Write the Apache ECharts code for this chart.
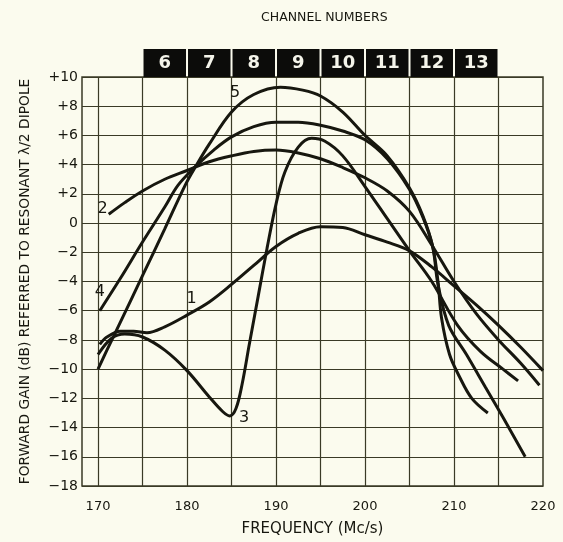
<!DOCTYPE html>
<html>
<head>
<meta charset="utf-8">
<script src="https://cdn.jsdelivr.net/npm/echarts@6/dist/echarts.min.js"></script>
<style>
  html, body { margin: 0; padding: 0; background: #fbfbee; }
  #chart { width: 563px; height: 542px; }
</style>
</head>
<body>
<div id="chart"></div>
<script>
// frequency (Mc/s) and forward gain (dB)
var freq1 = [170.2, 171, 172.5, 174, 175.5, 177.5, 180, 182.5, 185, 187.5, 190, 192.5, 195, 197.5, 200, 202.5, 205, 207.5, 210, 212.5, 215, 217.5, 220];
var gain1 = [-8.3, -7.8, -7.4, -7.4, -7.5, -7.1, -6.3, -5.4, -4.2, -2.9, -1.6, -0.7, -0.25, -0.3, -0.8, -1.3, -1.9, -3.0, -4.3, -5.6, -7.0, -8.5, -10.1];

var freq2 = [171.2, 173, 175, 177.5, 180, 182.5, 185, 187.5, 190, 192.5, 195, 197.5, 200, 202.5, 205, 207.5, 210, 212.5, 215, 217.5, 219.6];
var gain2 = [0.6, 1.4, 2.2, 3.0, 3.6, 4.2, 4.6, 4.9, 5.0, 4.8, 4.4, 3.8, 3.1, 2.2, 0.8, -1.5, -4.0, -6.2, -8.0, -9.6, -11.1];

var freq3 = [170, 171.5, 173, 175, 177.5, 180, 182.5, 184, 184.8, 185.5, 186.2, 187, 188, 189, 190, 191, 192.5, 194, 195.5, 197.5, 200, 202.5, 205, 207.5, 210.4, 213, 215.5, 217.2];
var gain3 = [-9.0, -7.9, -7.6, -7.8, -8.7, -10.1, -11.9, -12.9, -13.2, -12.7, -11.0, -8.3, -5.0, -1.7, 1.3, 3.5, 5.2, 5.8, 5.6, 4.6, 2.5, 0.3, -1.9, -4.0, -7.0, -8.8, -10.0, -10.8];

var freq4 = [170.2, 172.5, 175, 177.5, 179, 181, 183, 185, 187.5, 190, 192.5, 195, 197.5, 200, 202.5, 205, 206.5, 207.6, 208.2, 208.6, 209.5, 210.6, 212, 213.8];
var gain4 = [-6.0, -3.8, -1.3, 1.1, 2.6, 3.9, 5.0, 5.9, 6.6, 6.9, 6.9, 6.7, 6.3, 5.7, 4.4, 2.3, 0.4, -1.6, -4.0, -6.5, -9.0, -10.5, -12.0, -13.0];

var freq5 = [170, 171, 172.5, 175, 177.5, 179.8, 181, 182.5, 185, 187.5, 190.5, 193, 195, 197.5, 200, 202.5, 205, 206.5, 207.6, 208.2, 209.4, 211.4, 213.5, 215.5, 218];
var gain5 = [-10.0, -8.7, -6.8, -3.6, -0.4, 2.6, 3.9, 5.4, 7.6, 8.8, 9.3, 9.1, 8.7, 7.6, 6.0, 4.6, 2.4, 0.5, -1.6, -4.2, -7.0, -9.0, -11.2, -13.3, -16.0];

// curve number labels: position (freq, dB)
var curveNames = ['1', '2', '3', '4', '5'];
var labelFreq = [180.5, 170.5, 186.4, 170.2, 185.4];
var labelGain = [-5.2, 1.0, -13.3, -4.7, 8.9];

// channel band above the plot
var channelNames = ['6', '7', '8', '9', '10', '11', '12', '13'];
var channelEdges = [175, 180, 185, 190, 195, 200, 205, 210, 215];

var xTicks = [170, 175, 180, 185, 190, 195, 200, 205, 210, 215];
var xLabels = [170, 180, 190, 200, 210, 220];

var ink = '#17170f';
var gridInk = '#3a3a26';
var font = 'DejaVu Sans';

function zip(xs, ys) {
  return xs.map(function (x, i) { return [x, ys[i]]; });
}

var curves = [zip(freq1, gain1), zip(freq2, gain2), zip(freq3, gain3), zip(freq4, gain4), zip(freq5, gain5)];

var chart = echarts.init(document.getElementById('chart'));

var series = curves.map(function (d, i) {
  return {
    name: 'curve' + curveNames[i],
    type: 'line',
    data: d,
    smooth: 0.35,
    symbol: 'none',
    lineStyle: { color: ink, width: 3 },
    z: 5
  };
});

series.push({
  type: 'scatter',
  data: labelFreq.map(function (f, i) { return [f, labelGain[i], curveNames[i]]; }),
  symbolSize: 0.1,
  itemStyle: { color: ink, opacity: 1 },
  label: {
    show: true,
    position: 'inside',
    formatter: function (p) { return p.value[2]; },
    color: ink,
    fontFamily: 'DejaVu Sans',
    fontSize: 16
  },
  z: 6
});

series.push({
  type: 'custom',
  xAxisIndex: 1,
  yAxisIndex: 1,
  data: channelNames.map(function (n, i) { return [channelEdges[i], channelEdges[i + 1], n]; }),
  renderItem: function (params, api) {
    var a = api.coord([api.value(0), 0]);
    var b = api.coord([api.value(1), 1]);
    return {
      type: 'group',
      children: [{
        type: 'rect',
        shape: { x: a[0] + 1, y: b[1], width: b[0] - a[0] - 2, height: a[1] - b[1] },
        style: { fill: '#0c0c0a' }
      }, {
        type: 'text',
        style: {
          x: (a[0] + b[0]) / 2, y: (a[1] + b[1]) / 2,
          text: api.value(2),
          fill: '#f4f4ea',
          font: 'bold 18px "DejaVu Sans"',
          align: 'center', verticalAlign: 'middle'
        }
      }]
    };
  }
});

chart.setOption({
  backgroundColor: '#fbfbee',
  animation: false,
  grid: [
    { left: 82, right: 20, top: 77, bottom: 54, show: true, borderColor: gridInk, borderWidth: 1.5, backgroundColor: 'transparent' },
    { left: 82, right: 20, top: 49, height: 28 }
  ],
  graphic: [{
    type: 'text',
    left: 323 - 62, top: 11,
    style: { text: 'CHANNEL NUMBERS', font: '12.5px "DejaVu Sans"', fill: ink }
  }],
  xAxis: [{
    type: 'value',
    min: 168.2, max: 220,
    name: 'FREQUENCY (Mc/s)',
    nameLocation: 'middle',
    nameGap: 36,
    nameTextStyle: { color: ink, fontFamily: font, fontSize: 15 },
    axisLine: { show: false },
    axisTick: { show: false, customValues: xTicks },
    axisLabel: { customValues: xLabels, color: ink, fontFamily: font, fontSize: 13, margin: 14 },
    splitLine: { show: true, lineStyle: { color: gridInk, width: 1.2 } }
  }, {
    type: 'value',
    gridIndex: 1,
    min: 168.2, max: 220,
    show: false
  }],
  yAxis: [{
    type: 'value',
    min: -18, max: 10, interval: 2,
    name: 'FORWARD GAIN (dB) REFERRED TO RESONANT λ/2 DIPOLE',
    nameLocation: 'middle',
    nameRotate: 90,
    nameGap: 50,
    nameTextStyle: { color: ink, fontFamily: font, fontSize: 13.8 },
    axisLine: { show: false },
    axisTick: { show: false },
    axisLabel: {
      color: ink, fontFamily: font, fontSize: 14, margin: 4,
      formatter: function (v) { return v > 0 ? '+' + v : (v < 0 ? '\u2212' + (-v) : '0'); }
    },
    splitLine: { show: true, lineStyle: { color: gridInk, width: 1.2 } }
  }, {
    type: 'value',
    gridIndex: 1,
    min: 0, max: 1,
    show: false
  }],
  series: series
});
</script>
</body>
</html>
